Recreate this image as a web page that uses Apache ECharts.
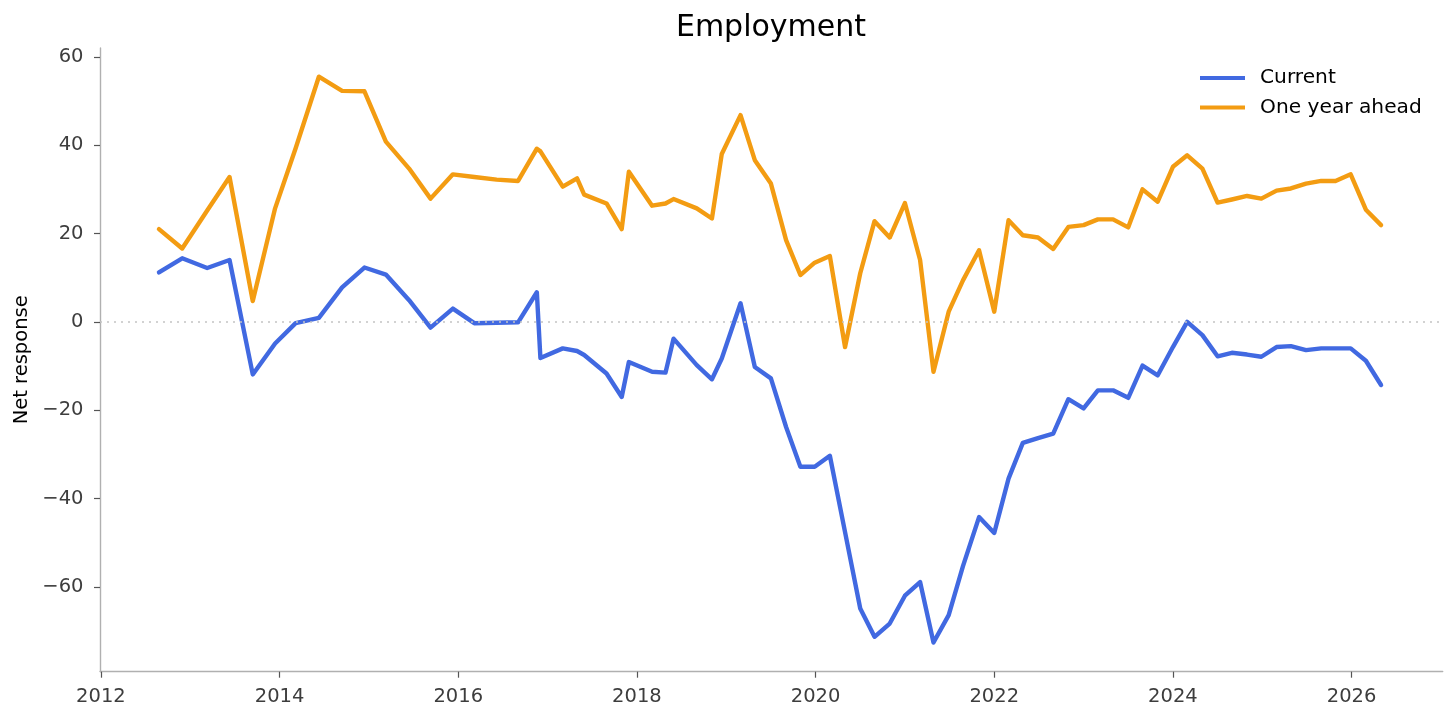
<!DOCTYPE html>
<html>
<head>
<meta charset="utf-8">
<script src="https://cdn.jsdelivr.net/npm/echarts@6/dist/echarts.min.js"></script>
<style>
html,body{margin:0;padding:0;background:#fff;}
#chart{width:1456px;height:720px;}
</style>
</head>
<body>
<div id="chart"></div>
<script>
// Observation dates (decimal years)
const dates = [2012.65, 2012.91, 2013.19, 2013.44, 2013.70, 2013.95, 2014.18, 2014.44, 2014.70, 2014.95,
  2015.19, 2015.45, 2015.69, 2015.94, 2016.18, 2016.43, 2016.67, 2016.88, 2016.92, 2017.17,
  2017.33, 2017.41, 2017.66, 2017.83, 2017.91, 2018.17, 2018.32, 2018.41, 2018.67, 2018.84,
  2018.95, 2019.16, 2019.32, 2019.50, 2019.67, 2019.83, 2019.99, 2020.16, 2020.33, 2020.50,
  2020.66, 2020.83, 2021.00, 2021.17, 2021.32, 2021.49, 2021.65, 2021.83, 2022.00, 2022.16,
  2022.32, 2022.49, 2022.66, 2022.83, 2023.00, 2023.16, 2023.33, 2023.50, 2023.66, 2023.83,
  2024.00, 2024.16, 2024.33, 2024.50, 2024.66, 2024.83, 2024.99, 2025.16, 2025.32, 2025.49,
  2025.66, 2025.82, 2025.99, 2026.16, 2026.33];

// Net response: Current
const current = [11.2, 14.4, 12.2, 14.0, -11.9, -4.9, -0.3, 0.9, 7.8, 12.3,
  10.7, 4.9, -1.3, 3.0, -0.3, -0.2, -0.1, 6.7, -8.2, -6.0,
  -6.6, -7.5, -11.7, -17.0, -9.1, -11.3, -11.5, -3.8, -9.8, -13.0,
  -8.3, 4.2, -10.2, -12.8, -23.8, -32.8, -32.8, -30.3, -47.6, -64.9,
  -71.3, -68.3, -62.0, -58.9, -72.6, -66.4, -55.3, -44.2, -47.8, -35.5,
  -27.4, -26.3, -25.3, -17.5, -19.6, -15.5, -15.5, -17.2, -9.9, -12.1,
  -5.7, 0.0, -3.0, -7.8, -7.0, -7.4, -7.9, -5.7, -5.5, -6.4,
  -6.0, -6.0, -6.0, -8.8, -14.3];

// Net response: One year ahead
const oneYearAhead = [21.0, 16.6, 25.2, 32.8, 4.7, 25.7, 39.3, 55.5, 52.3, 52.2,
  40.8, 34.7, 27.9, 33.4, 32.8, 32.2, 31.9, 39.2, 38.6, 30.6,
  32.5, 28.8, 26.8, 21.0, 34.0, 26.3, 26.8, 27.8, 25.7, 23.4,
  38.0, 46.8, 36.6, 31.3, 18.5, 10.6, 13.4, 14.9, -5.7, 11.0,
  22.8, 19.1, 26.9, 14.0, -11.3, 2.3, 9.4, 16.2, 2.3, 23.0,
  19.6, 19.1, 16.5, 21.5, 21.9, 23.2, 23.2, 21.4, 30.0, 27.2,
  35.1, 37.7, 34.7, 27.0, 27.7, 28.5, 27.9, 29.7, 30.2, 31.3,
  31.9, 31.9, 33.4, 25.4, 21.9];

const xTicks = [2012, 2014, 2016, 2018, 2020, 2022, 2024, 2026];
const yTicks = [-60, -40, -20, 0, 20, 40, 60];
const seriesNames = ['Current', 'One year ahead'];
const titleText = 'Employment';
const yAxisTitle = 'Net response';

const FONT = 'DejaVu Sans';
const AXIS_GREY = '#b0b0b0';
const TICK_TEXT = '#3d3d3d';

const chart = echarts.init(document.getElementById('chart'), null, {renderer: 'canvas'});
chart.setOption({
  animation: false,
  backgroundColor: '#ffffff',
  title: {
    text: titleText,
    left: 771,
    top: 13,
    padding: 0,
    textAlign: 'center',
    textStyle: {fontFamily: FONT, fontSize: 30, fontWeight: 'normal', color: '#000000'}
  },
  legend: {
    orient: 'vertical',
    left: 1200,
    top: 68,
    padding: 0,
    icon: 'rect',
    itemWidth: 45,
    itemHeight: 4.2,
    itemGap: 9.5,
    textStyle: {fontFamily: FONT, fontSize: 20.2, color: '#000000', lineHeight: 20, padding: [0, 0, 0, 10]},
    data: seriesNames
  },
  grid: {left: 100, right: 13.3, top: 48, bottom: 48.3, containLabel: false, outerBoundsMode: 'none'},
  xAxis: {
    type: 'value',
    min: 2011.99,
    max: 2027.02,
    splitLine: {show: false},
    axisLine: {show: true, onZero: false, lineStyle: {color: AXIS_GREY, width: 1.4}},
    axisTick: {show: true, length: 6, customValues: xTicks, lineStyle: {color: '#555555', width: 1.2}},
    axisLabel: {
      customValues: xTicks,
      margin: 15,
      fontFamily: FONT, fontSize: 19.5, color: TICK_TEXT,
      formatter: v => String(Math.round(v))
    }
  },
  yAxis: {
    type: 'value',
    min: -79.2,
    max: 62.0,
    name: yAxisTitle,
    nameLocation: 'middle',
    nameGap: 62,
    nameTextStyle: {fontFamily: FONT, fontSize: 19.5, color: '#000000'},
    splitLine: {show: false},
    axisLine: {show: true, onZero: false, lineStyle: {color: AXIS_GREY, width: 1.4}},
    axisTick: {show: true, length: 6, customValues: yTicks, lineStyle: {color: '#555555', width: 1.2}},
    axisLabel: {
      customValues: yTicks,
      margin: 16.5,
      fontFamily: FONT, fontSize: 19.5, color: TICK_TEXT,
      formatter: v => String(Math.round(v)).replace('-', '\u2212')
    }
  },
  series: [
    {
      name: seriesNames[0],
      type: 'line',
      symbol: 'none',
      color: '#4169E1',
      itemStyle: {color: '#4169E1'},
      lineStyle: {color: '#4169E1', width: 4.4, join: 'round', cap: 'round'},
      data: dates.map((d, i) => [d, current[i]]),
      z: 2
    },
    {
      name: seriesNames[1],
      type: 'line',
      symbol: 'none',
      color: '#F39C12',
      itemStyle: {color: '#F39C12'},
      lineStyle: {color: '#F39C12', width: 4.4, join: 'round', cap: 'round'},
      data: dates.map((d, i) => [d, oneYearAhead[i]]),
      z: 3,
      markLine: {
        silent: true,
        symbol: 'none',
        label: {show: false},
        lineStyle: {color: '#c4c4c4', type: [2, 5], width: 1.5},
        data: [{yAxis: 0}]
      }
    }
  ]
});
</script>
</body>
</html>
